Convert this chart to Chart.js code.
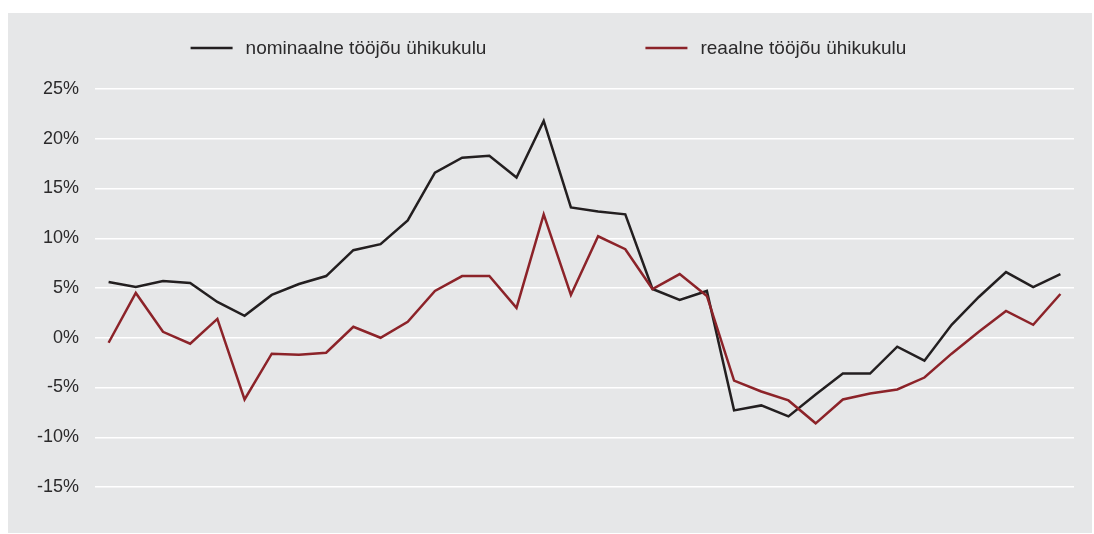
<!DOCTYPE html>
<html>
<head>
<meta charset="utf-8">
<script src="https://cdn.jsdelivr.net/npm/chart.js@4/dist/chart.umd.min.js"></script>
<style>
  html, body { margin: 0; padding: 0; background: #fff; }
  #wrap {
    position: absolute; left: 8px; top: 13px;
    width: 1084px; height: 520px;
    background: #e6e7e8;
  }
</style>
</head>
<body>
<div id="wrap"><canvas id="chart" width="1084" height="520"></canvas></div>
<script>
// quarterly periods (no labels shown on the axis)
const periods = [];
for (let y = 2000; y <= 2008; y++) for (let q = 1; q <= 4; q++) periods.push(y + ' Q' + q);

const nominal = [5.6, 5.1, 5.7, 5.5, 3.6, 2.2, 4.3, 5.4, 6.2, 8.8, 9.4, 11.8,
                 16.6, 18.1, 18.3, 16.1, 21.8, 13.1, 12.7, 12.4, 4.9, 3.8, 4.7, -7.3,
                 -6.8, -7.9, -5.7, -3.6, -3.6, -0.9, -2.3, 1.3, 4.1, 6.6, 5.1, 6.4];
const real = [-0.5, 4.5, 0.6, -0.6, 1.9, -6.2, -1.6, -1.7, -1.5, 1.1, 0.0, 1.6,
              4.7, 6.2, 6.2, 3.0, 12.4, 4.3, 10.2, 8.9, 4.9, 6.4, 4.2, -4.3,
              -5.4, -6.3, -8.6, -6.2, -5.6, -5.2, -4.0, -1.6, 0.6, 2.7, 1.3, 4.4];

const yTicks = [-15, -10, -5, 0, 5, 10, 15, 20, 25];

const fontFamily = '"Liberation Sans", Arial, Helvetica, sans-serif';
const textColor = '#2b2a2b';

// legend drawn above the plot, items spread wide apart
const wideLegend = {
  id: 'wideLegend',
  afterDraw(chart) {
    const ctx = chart.ctx;
    const items = chart.data.datasets.slice().sort((a, b) => a.legendIndex - b.legendIndex);
    const lineLen = 42, textGap = 13, itemGap = 159;
    ctx.save();
    ctx.font = '19px ' + fontFamily;
    const widths = items.map(d => lineLen + textGap + ctx.measureText(d.label).width);
    const total = widths.reduce((a, b) => a + b, 0) + itemGap * (items.length - 1);
    let x = chart.width / 2 - total / 2 - 1.5;
    const y = 35;
    items.forEach((d, i) => {
      ctx.strokeStyle = d.borderColor;
      ctx.lineWidth = 2.5;
      ctx.beginPath();
      ctx.moveTo(x, y);
      ctx.lineTo(x + lineLen, y);
      ctx.stroke();
      ctx.fillStyle = textColor;
      ctx.textBaseline = 'middle';
      ctx.fillText(d.label, x + lineLen + textGap, y + 1);
      x += widths[i] + itemGap;
    });
    ctx.restore();
  }
};

new Chart(document.getElementById('chart').getContext('2d'), {
  type: 'line',
  data: {
    labels: periods,
    datasets: [
      {
        label: 'nominaalne tööjõu ühikukulu',
        data: nominal,
        borderColor: '#231f20',
        borderWidth: 2.5,
        pointRadius: 0,
        tension: 0,
        order: 1,
        legendIndex: 0
      },
      {
        label: 'reaalne tööjõu ühikukulu',
        data: real,
        borderColor: '#8c2329',
        borderWidth: 2.5,
        pointRadius: 0,
        tension: 0,
        order: 0,
        legendIndex: 1
      }
    ]
  },
  options: {
    responsive: false,
    animation: false,
    layout: { padding: { left: 0, right: 18, top: 76, bottom: 46 } },
    plugins: {
      legend: { display: false },
      tooltip: { enabled: false }
    },
    scales: {
      x: {
        display: false,
        offset: true
      },
      y: {
        min: -15,
        max: 25,
        afterFit(scale) { scale.width = 87; },
        afterBuildTicks(scale) { scale.ticks = yTicks.map(v => ({ value: v })); },
        border: { display: false },
        grid: { color: '#ffffff', lineWidth: 1.5, drawTicks: false },
        ticks: {
          padding: 16,
          color: textColor,
          font: { family: fontFamily, size: 18 },
          callback: v => v + '%'
        }
      }
    }
  },
  plugins: [wideLegend]
});
</script>
</body>
</html>
